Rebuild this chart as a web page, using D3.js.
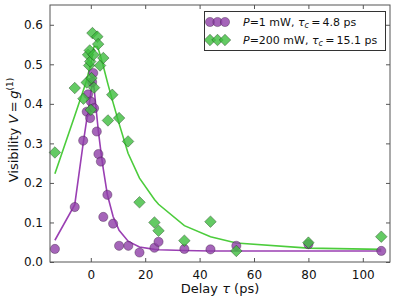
<!DOCTYPE html>
<html>
<head>
<meta charset="utf-8">
<script src="https://cdnjs.cloudflare.com/ajax/libs/d3/7.8.5/d3.min.js"></script>
<style>
  body { margin: 0; background: #fff; }
  text { font-family: "DejaVu Sans", sans-serif; }
</style>
</head>
<body>
<div id="chart"></div>
<script>
// measured visibility, P = 1 mW
var purpleTau = [-13.2, -5.9, -2.8, -1.5, -1.0, -0.25, 0, 0.5, 0.9, 1.2, 2.2, 2.8, 3.7, 4.6, 6.1, 8.2, 10.4, 13.8, 17.9, 23.4, 24.9, 34.4, 44, 53.5, 80, 106.8];
var purpleV   = [0.033, 0.139, 0.307, 0.38, 0.424, 0.364, 0.406, 0.455, 0.478, 0.389, 0.33, 0.273, 0.254, 0.114, 0.17, 0.097, 0.041, 0.041, 0.024, 0.036, 0.051, 0.033, 0.032, 0.041, 0.045, 0.028];
// fit curve, P = 1 mW
var purpleFitTau = [-13.2, -5.9, -2.8, -1.5, -1.0, -0.25, 0, 0.5, 0.9, 1.2, 2.2, 2.8, 3.7, 4.6, 6.1, 8.2, 10.4, 13.8, 17.9, 23.4, 24.9, 34.4, 44, 53.5, 80, 106.8];
var purpleFitV   = [0.055, 0.145, 0.30, 0.36, 0.38, 0.415, 0.43, 0.445, 0.45, 0.44, 0.37, 0.33, 0.28, 0.235, 0.17, 0.115, 0.08, 0.052, 0.038, 0.032, 0.031, 0.029, 0.028, 0.028, 0.028, 0.028];

// measured visibility, P = 200 mW
var greenTau = [-13.2, -5.9, -2.7, -1.5, -1.0, -0.6, -0.4, -0.2, 0, 0.25, 0.6, 1.0, 1.2, 2.4, 2.7, 3.4, 4.6, 6.3, 7.9, 10.4, 13.7, 17.9, 23.4, 24.9, 34.4, 44, 53.5, 80, 106.8];
var greenV   = [0.277, 0.44, 0.413, 0.454, 0.524, 0.497, 0.535, 0.507, 0.385, 0.465, 0.579, 0.524, 0.441, 0.57, 0.551, 0.497, 0.516, 0.358, 0.423, 0.364, 0.305, 0.151, 0.10, 0.079, 0.054, 0.102, 0.028, 0.049, 0.064];
// fit curve, P = 200 mW
var greenFitTau = [-13.2, -5.9, -2.7, -1.5, -1.0, -0.6, -0.4, -0.2, 0, 0.25, 0.6, 1.0, 1.2, 2.4, 2.7, 3.4, 4.6, 6.3, 7.9, 10.4, 13.7, 17.9, 23.4, 24.9, 34.4, 44, 53.5, 80, 106.8];
var greenFitV   = [0.223, 0.37, 0.435, 0.46, 0.475, 0.485, 0.49, 0.495, 0.50, 0.51, 0.525, 0.54, 0.545, 0.545, 0.54, 0.525, 0.495, 0.45, 0.41, 0.35, 0.275, 0.212, 0.158, 0.146, 0.092, 0.064, 0.048, 0.035, 0.032];

var xTicks = [0, 20, 40, 60, 80, 100];
var yTicks = [0.0, 0.1, 0.2, 0.3, 0.4, 0.5, 0.6];

function drawChart(){
  var w = 399, h = 299;
  var pl = 50, pr = 390, pt = 5, pb = 262;

  var svg = d3.select("#chart").append("svg").attr("width", w).attr("height", h);

  var x = d3.scaleLinear().domain([-15, 110]).range([pl, pr]);
  var y = d3.scaleLinear().domain([0, 0.65]).range([pb, pt]);

  var purpleFill = "#8e3fa8", greenFill = "#3dbd3d";

  // fit lines
  var line = d3.line().x(function(d){ return x(d[0]); }).y(function(d){ return y(d[1]); });
  svg.append("path")
    .datum(purpleFitTau.map(function(t, i){ return [t, purpleFitV[i]]; }))
    .attr("d", line).attr("fill", "none")
    .attr("stroke", "#9a3fb3").attr("stroke-width", 1.6);
  svg.append("path")
    .datum(greenFitTau.map(function(t, i){ return [t, greenFitV[i]]; }))
    .attr("d", line).attr("fill", "none")
    .attr("stroke", "#4ccc3c").attr("stroke-width", 1.6);

  function circle(sel){
    sel.attr("r", 4.6)
      .attr("fill", purpleFill).attr("fill-opacity", 0.8)
      .attr("stroke", "#2a1030").attr("stroke-opacity", 0.5).attr("stroke-width", 0.7);
  }
  var diamond = d3.symbol().type(d3.symbolDiamond2).size(85);
  function dia(sel){
    sel.attr("d", diamond)
      .attr("fill", greenFill).attr("fill-opacity", 0.8)
      .attr("stroke", "#103010").attr("stroke-opacity", 0.55).attr("stroke-width", 0.7);
  }

  // data points
  svg.selectAll("circle.p")
    .data(purpleTau.map(function(t, i){ return [t, purpleV[i]]; }))
    .enter().append("circle")
    .attr("cx", function(d){ return x(d[0]); })
    .attr("cy", function(d){ return y(d[1]); })
    .call(circle);

  svg.selectAll("path.g")
    .data(greenTau.map(function(t, i){ return [t, greenV[i]]; }))
    .enter().append("path")
    .attr("transform", function(d){ return "translate(" + x(d[0]) + "," + y(d[1]) + ")"; })
    .call(dia);

  // axes, ticks inside on all sides
  svg.append("g").attr("transform", "translate(0," + pb + ")")
    .call(d3.axisBottom(x).tickValues(xTicks).tickSizeInner(-4).tickSizeOuter(0).tickPadding(8));
  svg.append("g").attr("transform", "translate(0," + pt + ")")
    .call(d3.axisTop(x).tickValues(xTicks).tickSizeInner(-4).tickSizeOuter(0).tickFormat(""));
  svg.append("g").attr("transform", "translate(" + pl + ",0)")
    .call(d3.axisLeft(y).tickValues(yTicks).tickSizeInner(-4).tickSizeOuter(0).tickPadding(7).tickFormat(d3.format(".1f")));
  svg.append("g").attr("transform", "translate(" + pr + ",0)")
    .call(d3.axisRight(y).tickValues(yTicks).tickSizeInner(-4).tickSizeOuter(0).tickFormat(""));

  svg.selectAll(".domain").remove();
  svg.selectAll(".tick line").attr("stroke", "#555");
  svg.selectAll(".tick text").attr("font-size", "12px").attr("font-family", "DejaVu Sans").attr("fill", "#111");

  svg.append("rect").attr("x", pl).attr("y", pt)
    .attr("width", pr - pl).attr("height", pb - pt)
    .attr("fill", "none").attr("stroke", "#555").attr("stroke-width", 1);

  // axis labels
  svg.append("text").attr("x", 220).attr("y", 293)
    .attr("text-anchor", "middle").attr("font-size", "13px").attr("fill", "#111")
    .html('Delay <tspan font-style="italic">τ</tspan> (ps)');

  var yl = svg.append("text").attr("transform", "translate(18,130) rotate(-90)")
    .attr("text-anchor", "middle").attr("font-size", "13px").attr("fill", "#111");
  yl.append("tspan").text("Visibility ");
  yl.append("tspan").attr("font-style", "italic").text("V");
  yl.append("tspan").text("\u2009=\u2009");
  yl.append("tspan").attr("font-style", "italic").text("g");
  yl.append("tspan").attr("font-size", "9px").attr("dy", -5).text("(1)");

  // legend
  var legendLabels = [
    [{t: "P", i: true}, {t: "=1 mW, "}, {t: "τ", i: true}, {t: "c", i: true, sub: true}, {t: "\u2009=\u20094.8 ps"}],
    [{t: "P", i: true}, {t: "=200 mW, "}, {t: "τ", i: true}, {t: "c", i: true, sub: true}, {t: "\u2009=\u200915.1 ps"}]
  ];
  svg.append("rect").attr("x", 204.5).attr("y", 11.5).attr("width", 181).attr("height", 39)
    .attr("fill", "#fff").attr("stroke", "#333").attr("stroke-width", 1);

  var legendY = [22, 40];
  [0, 1].forEach(function(k){
    [210, 217.5, 225].forEach(function(mx){
      if (k == 0) {
        svg.append("circle").attr("cx", mx).attr("cy", legendY[k]).call(circle);
      } else {
        svg.append("path").attr("transform", "translate(" + mx + "," + legendY[k] + ")").call(dia);
      }
    });
    var t = svg.append("text").attr("x", 243).attr("y", legendY[k] + 4)
      .attr("font-size", "11px").attr("fill", "#111");
    legendLabels[k].forEach(function(p){
      var s = t.append("tspan").text(p.t);
      if (p.i) s.attr("font-style", "italic");
      if (p.sub) s.attr("font-size", "8px").attr("dy", 2);
      else if (p.t.charAt(0) == "\u2009") s.attr("dy", -2);
    });
  });
}
drawChart();
</script>
</body>
</html>
